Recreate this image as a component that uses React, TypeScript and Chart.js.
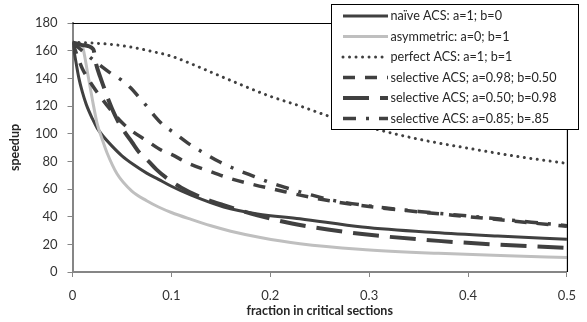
import React, { useEffect, useRef } from 'react';
import { Chart, registerables } from 'chart.js';

Chart.register(...registerables);

// ---- data ----
const seriesNames = [
  'naïve ACS: a=1; b=0',
  'asymmetric: a=0; b=1',
  'perfect ACS: a=1; b=1',
  'selective ACS; a=0.98; b=0.50',
  'selective ACS; a=0.50; b=0.98',
  'selective ACS: a=0.85; b=.85',
];

const naiveX = [0, 0.0015, 0.0065, 0.01, 0.014, 0.02, 0.025, 0.03, 0.04, 0.05, 0.062, 0.075, 0.087, 0.1, 0.12, 0.153, 0.187, 0.23, 0.293, 0.366, 0.43, 0.5];
const naiveY = [166, 160, 140, 130, 121, 111, 104, 99, 91, 84, 77.5, 71.5, 67, 62, 55.5, 47, 42, 38.5, 32.5, 28.5, 26, 23.7];

const asymX = [0, 0.005, 0.01, 0.015, 0.02, 0.025, 0.03, 0.035, 0.045, 0.06, 0.075, 0.087, 0.1, 0.12, 0.14, 0.16, 0.19, 0.23, 0.29, 0.37, 0.44, 0.5];
const asymY = [166, 165.5, 163, 145, 125, 107, 96, 86, 71, 58.5, 51.5, 47, 43, 38, 33.4, 29.5, 25, 20.5, 16.5, 13.5, 11.8, 10.4];

const perfectX = [0, 0.02, 0.04, 0.06, 0.08, 0.1, 0.12, 0.14, 0.17, 0.2, 0.23, 0.26, 0.3, 0.35, 0.4, 0.45, 0.5];
const perfectY = [166, 165.5, 164.5, 162.5, 159.5, 156, 150.5, 144.5, 135.5, 127, 120, 112.5, 104.5, 96, 89.5, 83.5, 78.5];

const sel98X = [0, 0.005, 0.01, 0.02, 0.03, 0.04, 0.05, 0.06, 0.075, 0.09, 0.1, 0.116, 0.138, 0.16, 0.184, 0.207, 0.23, 0.26, 0.3, 0.35, 0.4, 0.45, 0.5];
const sel98Y = [166, 156, 147, 135, 125, 116, 108, 102, 95, 88, 85, 79, 73, 67.5, 63, 59.3, 55.6, 51.5, 47.3, 43.5, 40, 36.5, 33];

const sel50X = [0, 0.01, 0.021, 0.024, 0.028, 0.032, 0.036, 0.04, 0.046, 0.053, 0.06, 0.068, 0.077, 0.085, 0.095, 0.11, 0.13, 0.152, 0.187, 0.222, 0.26, 0.293, 0.37, 0.43, 0.5];
const sel50Y = [166, 164, 161, 150, 141, 133, 125, 118, 109, 101, 94, 86, 80, 74, 68, 61, 54, 48.5, 41, 35, 30.5, 27.4, 22.5, 19.8, 17.4];

const sel85X = [0, 0.008, 0.017, 0.025, 0.037, 0.049, 0.059, 0.067, 0.075, 0.084, 0.092, 0.102, 0.117, 0.133, 0.149, 0.166, 0.184, 0.2, 0.218, 0.24, 0.26, 0.3, 0.35, 0.4, 0.45, 0.5];
const sel85Y = [166, 161, 155.6, 151, 144.5, 139, 133, 126.5, 120, 112, 106, 101, 93, 86, 79.5, 74, 69, 64.6, 60.5, 56, 52.3, 47.8, 43.8, 40.5, 37, 33.5];

const xTickLabels = ['0', '0.1', '0.2', '0.3', '0.4', '0.5'];
const xTitle = 'fraction in critical sections';
const yTitle = 'speedup';

// ---- styles ----
const DARK = '#404040';
const styles = [
  { color: DARK, width: 3, dash: [] as number[], cap: 'butt' },
  { color: '#bfbfbf', width: 3, dash: [] as number[], cap: 'butt' },
  { color: DARK, width: 3, dash: [0.01, 6.5], cap: 'round' },
  { color: DARK, width: 3.5, dash: [12, 10], cap: 'butt' },
  { color: DARK, width: 4, dash: [26, 11], cap: 'butt' },
  { color: DARK, width: 3.5, dash: [13, 10, 3, 10], cap: 'butt' },
];

const FONT = 'Lato, "Open Sans", sans-serif';

const framePlugin = {
  id: 'frame',
  afterDatasetsDraw(chart: any) {
    const { ctx, chartArea } = chart;
    ctx.save();
    ctx.strokeStyle = '#000';
    ctx.lineWidth = 1.2;
    ctx.beginPath();
    ctx.moveTo(chartArea.left, chartArea.top + 0.5);
    ctx.lineTo(chartArea.right + 0.5, chartArea.top + 0.5);
    ctx.lineTo(chartArea.right + 0.5, chartArea.bottom);
    ctx.stroke();
    ctx.restore();
  },
};

const legendPlugin = {
  id: 'customLegend',
  afterDraw(chart: any) {
    const { ctx } = chart;
    const bx = 331, by = 4, bw = 247, bh = 125;
    ctx.save();
    ctx.fillStyle = '#fff';
    ctx.fillRect(bx, by, bw, bh);
    ctx.strokeStyle = '#000';
    ctx.lineWidth = 1;
    ctx.strokeRect(bx + 0.5, by + 0.5, bw, bh);
    ctx.font = `12.6px ${FONT}`;
    ctx.textBaseline = 'middle';
    ctx.textAlign = 'left';
    seriesNames.forEach((name, i) => {
      const y = 16 + i * 20.5;
      const st = styles[i];
      ctx.save();
      ctx.strokeStyle = st.color;
      ctx.lineWidth = st.width;
      ctx.lineCap = st.cap as CanvasLineCap;
      ctx.setLineDash(st.dash);
      ctx.beginPath();
      ctx.moveTo(343, y);
      ctx.lineTo(388, y);
      ctx.stroke();
      ctx.restore();
      ctx.fillStyle = '#262626';
      ctx.fillText(name, 390.5, y);
    });
    ctx.restore();
  },
};

export default function App() {
  const ref = useRef<HTMLCanvasElement | null>(null);

  useEffect(() => {
    if (!ref.current) return;
    const xs = [naiveX, asymX, perfectX, sel98X, sel50X, sel85X];
    const ys = [naiveY, asymY, perfectY, sel98Y, sel50Y, sel85Y];
    const datasets = seriesNames.map((label, i) => ({
      label,
      data: xs[i].map((x, j) => ({ x, y: ys[i][j] })),
      borderColor: styles[i].color,
      backgroundColor: styles[i].color,
      borderWidth: styles[i].width,
      borderDash: styles[i].dash,
      borderCapStyle: styles[i].cap,
      borderJoinStyle: 'round',
      pointRadius: 0,
      fill: false,
      cubicInterpolationMode: 'monotone',
      order: 5 - i,
    }));

    const chart = new Chart(ref.current, {
      type: 'line',
      data: { datasets } as any,
      options: {
        animation: false,
        responsive: false,
        maintainAspectRatio: false,
        layout: { padding: { top: 23, right: 12, left: 0, bottom: 0 } },
        plugins: { legend: { display: false }, tooltip: { enabled: false } },
        scales: {
          x: {
            type: 'linear',
            min: 0,
            max: 0.5,
            ticks: {
              stepSize: 0.1,
              autoSkip: false,
              maxRotation: 0,
              padding: 11,
              color: '#333',
              font: { family: FONT, size: 13 },
              callback: (_v: any, i: number) => xTickLabels[i],
            },
            grid: { drawOnChartArea: false, drawTicks: true, tickLength: 5, tickColor: '#868686', color: '#868686' },
            border: { display: true, color: '#868686', width: 2 },
            title: {
              display: true,
              text: xTitle,
              color: '#262626',
              font: { family: FONT, size: 12.5, weight: 'bold' },
              padding: { top: 0, bottom: 4 },
            },
            afterFit: (s: any) => { s.height = 50; },
          },
          y: {
            min: 0,
            max: 180,
            ticks: {
              stepSize: 20,
              padding: 10,
              color: '#333',
              font: { family: FONT, size: 13 },
            },
            grid: { drawOnChartArea: false, drawTicks: true, tickLength: 5, tickColor: '#868686', color: '#868686' },
            border: { display: true, color: '#868686', width: 2 },
            title: {
              display: true,
              text: yTitle,
              color: '#262626',
              font: { family: FONT, size: 12.5, weight: 'bold' },
              padding: { top: 7, bottom: 0 },
            },
            afterFit: (s: any) => { s.width = 72.5; },
          },
        },
      } as any,
      plugins: [framePlugin, legendPlugin],
    });
    return () => chart.destroy();
  }, []);

  return (
    <div style={{ position: 'absolute', left: 0, top: 0, width: 587, height: 322, background: '#fff' }}>
      <canvas ref={ref} width={587} height={322} style={{ width: 587, height: 322, display: 'block' }} />
    </div>
  );
}
